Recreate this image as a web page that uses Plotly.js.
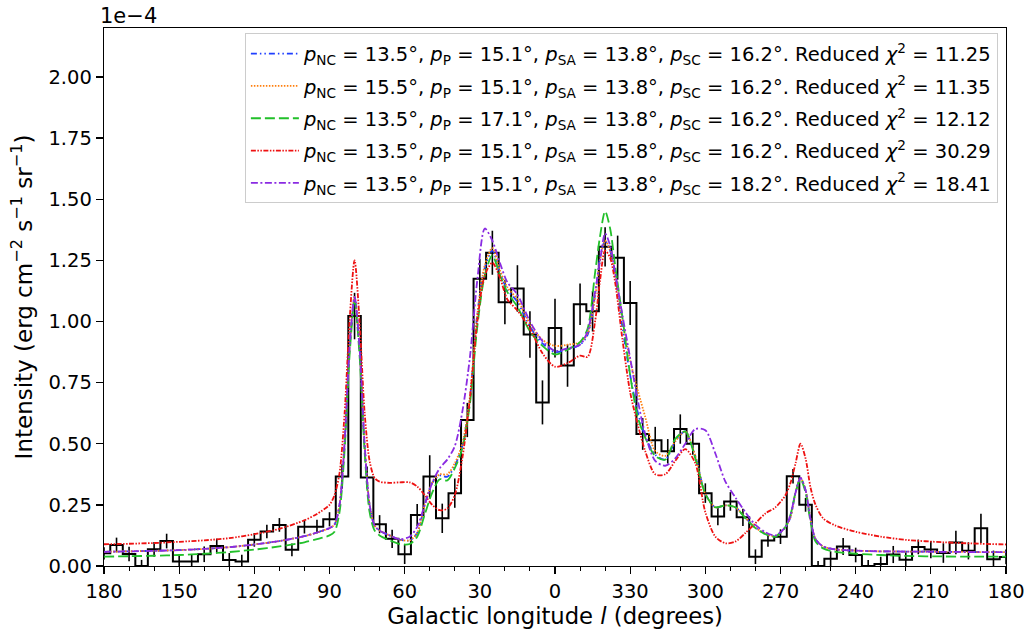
<!DOCTYPE html>
<html>
<head>
<meta charset="utf-8">
<script src="https://cdn.plot.ly/plotly-3.0.1.min.js"></script>
<style>html,body{margin:0;padding:0;background:#fff;}</style>
</head>
<body>
<div id="chart" style="width:1032px;height:632px;"></div>
<script>
// Observed histogram (intensity in units of 1e-4 erg cm^-2 s^-1 sr^-1), bin centres in degrees (l > 180 written as negative)
const binL = [180,175,170,165,160,155,150,145,140,135,130,125,120,115,110,105,100,95,90,85,80,75,70,65,60,55,50,45,40,35,30,25,20,15,10,5,0,
  -5,-10,-15,-20,-25,-30,-35,-40,-45,-50,-55,-60,-65,-70,-75,-80,-85,-90,-95,-100,-105,-110,-115,-120,-125,-130,-135,-140,-145,-150,-155,-160,-165,-170,-175,-180];
const obsI = [0.052,0.086,0.049,0.0,0.068,0.102,0.018,0.018,0.048,0.082,0.025,0.018,0.107,0.141,0.168,0.066,0.161,0.161,0.191,0.366,1.022,0.362,0.171,0.111,0.048,0.209,0.366,0.195,0.298,0.597,1.175,1.281,1.079,1.135,0.947,0.669,0.973,
  0.820,1.070,1.042,1.305,1.261,1.075,0.540,0.514,0.469,0.560,0.500,0.298,0.202,0.264,0.199,0.038,0.104,0.120,0.367,0.250,0.0,0.030,0.080,0.045,0.0,0.008,0.047,0.026,0.078,0.067,0.053,0.096,0.062,0.154,0.028,0.037];
const obsErr = [0.025,0.03,0.03,0.025,0.03,0.03,0.028,0.028,0.032,0.03,0.028,0.028,0.028,0.028,0.028,0.026,0.028,0.028,0.029,0.05,0.095,0.045,0.037,0.037,0.04,0.045,0.087,0.06,0.06,0.07,0.08,0.09,0.09,0.095,0.095,0.09,0.12,
  0.087,0.085,0.083,0.08,0.09,0.09,0.065,0.055,0.05,0.06,0.045,0.04,0.035,0.038,0.035,0.03,0.025,0.03,0.03,0.028,0.02,0.03,0.035,0.03,0.025,0.03,0.035,0.03,0.03,0.035,0.04,0.048,0.035,0.06,0.035,0.03];

// Model curves
const modelL = [180,170,160,150,140,130,120,110,100,95,90,88,86,84,82,80,78,76,74,72,70,66,62,58,55,52,49,46,43,40,37,34,31,28,25,22,19,15,10,5,0,
  -5,-10,-13,-16,-18,-20,-22,-24,-27,-30,-33,-36,-40,-44,-48,-52,-56,-60,-64,-68,-72,-76,-80,-84,-88,-92,-94,-96,-98,-100,-102,-104,-107,-112,-120,-130,-140,-155,-170,-180];
const modelA = [0.058,0.060,0.062,0.065,0.070,0.077,0.088,0.102,0.122,0.137,0.155,0.17,0.25,0.50,0.89,1.10,0.89,0.50,0.25,0.165,0.145,0.125,0.108,0.105,0.135,0.25,0.34,0.37,0.365,0.41,0.49,0.68,1.03,1.22,1.29,1.20,1.13,1.08,0.98,0.91,0.875,
  0.885,0.905,0.945,1.11,1.26,1.33,1.29,1.19,0.97,0.78,0.63,0.53,0.455,0.435,0.51,0.55,0.45,0.295,0.24,0.248,0.24,0.197,0.157,0.132,0.122,0.16,0.20,0.30,0.36,0.31,0.19,0.11,0.08,0.068,0.063,0.060,0.059,0.058,0.057,0.057];
const modelB = [0.058,0.060,0.062,0.065,0.070,0.077,0.088,0.102,0.122,0.137,0.155,0.17,0.25,0.50,0.89,1.10,0.89,0.50,0.25,0.165,0.145,0.125,0.108,0.105,0.135,0.25,0.34,0.375,0.375,0.42,0.50,0.69,1.03,1.23,1.30,1.21,1.14,1.09,0.99,0.925,0.90,
  0.905,0.915,0.95,1.10,1.25,1.33,1.29,1.20,1.00,0.84,0.72,0.61,0.47,0.45,0.51,0.55,0.45,0.295,0.24,0.248,0.24,0.197,0.157,0.132,0.122,0.16,0.20,0.30,0.36,0.31,0.19,0.11,0.08,0.068,0.063,0.060,0.059,0.058,0.057,0.057];
const modelC = [0.038,0.040,0.042,0.045,0.050,0.057,0.067,0.080,0.097,0.110,0.125,0.14,0.22,0.47,0.86,1.08,0.86,0.47,0.22,0.145,0.125,0.105,0.09,0.09,0.12,0.21,0.30,0.355,0.35,0.40,0.48,0.66,0.98,1.19,1.27,1.19,1.12,1.06,0.96,0.90,0.865,
  0.885,0.915,0.97,1.20,1.35,1.45,1.38,1.23,1.01,0.78,0.61,0.525,0.45,0.435,0.52,0.55,0.44,0.295,0.24,0.248,0.24,0.195,0.155,0.13,0.12,0.16,0.21,0.30,0.355,0.30,0.18,0.10,0.072,0.058,0.050,0.045,0.041,0.039,0.038,0.038];
const modelD = [0.089,0.091,0.094,0.099,0.105,0.114,0.130,0.152,0.187,0.213,0.250,0.29,0.38,0.62,1.00,1.25,1.00,0.63,0.43,0.36,0.345,0.34,0.342,0.342,0.325,0.29,0.25,0.228,0.235,0.29,0.44,0.68,1.00,1.19,1.24,1.18,1.09,1.045,0.97,0.87,0.815,
  0.83,0.86,0.855,1.0,1.17,1.29,1.26,1.16,0.92,0.71,0.58,0.47,0.375,0.375,0.43,0.478,0.42,0.22,0.12,0.093,0.10,0.135,0.175,0.215,0.24,0.29,0.34,0.42,0.50,0.44,0.32,0.25,0.195,0.165,0.14,0.12,0.107,0.097,0.091,0.088];
const modelE = [0.058,0.060,0.062,0.065,0.070,0.077,0.088,0.102,0.122,0.137,0.155,0.17,0.25,0.50,0.89,1.10,0.89,0.50,0.25,0.165,0.145,0.125,0.11,0.12,0.16,0.25,0.34,0.40,0.435,0.49,0.63,0.85,1.17,1.38,1.33,1.24,1.16,1.11,1.00,0.92,0.88,
  0.89,0.905,0.96,1.12,1.25,1.36,1.31,1.20,1.02,0.85,0.68,0.54,0.43,0.41,0.44,0.50,0.56,0.555,0.46,0.345,0.28,0.22,0.168,0.138,0.125,0.16,0.21,0.30,0.36,0.31,0.19,0.11,0.08,0.068,0.063,0.060,0.059,0.058,0.057,0.057];

const legendNames = [
  '<i>p</i><sub>NC</sub> = 13.5°, <i>p</i><sub>P</sub> = 15.1°, <i>p</i><sub>SA</sub> = 13.8°, <i>p</i><sub>SC</sub> = 16.2°. Reduced <i>χ</i><sup>2</sup> = 11.25',
  '<i>p</i><sub>NC</sub> = 15.5°, <i>p</i><sub>P</sub> = 15.1°, <i>p</i><sub>SA</sub> = 13.8°, <i>p</i><sub>SC</sub> = 16.2°. Reduced <i>χ</i><sup>2</sup> = 11.35',
  '<i>p</i><sub>NC</sub> = 13.5°, <i>p</i><sub>P</sub> = 17.1°, <i>p</i><sub>SA</sub> = 13.8°, <i>p</i><sub>SC</sub> = 16.2°. Reduced <i>χ</i><sup>2</sup> = 12.12',
  '<i>p</i><sub>NC</sub> = 13.5°, <i>p</i><sub>P</sub> = 15.1°, <i>p</i><sub>SA</sub> = 15.8°, <i>p</i><sub>SC</sub> = 16.2°. Reduced <i>χ</i><sup>2</sup> = 30.29',
  '<i>p</i><sub>NC</sub> = 13.5°, <i>p</i><sub>P</sub> = 15.1°, <i>p</i><sub>SA</sub> = 13.8°, <i>p</i><sub>SC</sub> = 18.2°. Reduced <i>χ</i><sup>2</sup> = 18.41'
];

const xTickVals = [180,150,120,90,60,30,0,-30,-60,-90,-120,-150,-180];
const xTickText = ['180','150','120','90','60','30','0','330','300','270','240','210','180'];
const xMinorVals = [170,160,140,130,110,100,80,70,50,40,20,10,-10,-20,-40,-50,-70,-80,-100,-110,-130,-140,-160,-170];
const yTickVals = [0,0.25,0.5,0.75,1.0,1.25,1.5,1.75,2.0];

const models = [modelA, modelB, modelC, modelD, modelE];
const colors = ['#1f3fff', '#ff7f0e', '#22c02a', '#ee1111', '#8a2be2'];
const dashes = ['6px,3px,1.5px,3px,1.5px,3px', '1.5px,1.5px', '10px,4px', '5px,1.5px,1.5px,1.5px,1.5px,1.5px', '7px,2.5px,2px,2.5px'];

const traces = [];
traces.push({
  x: binL, y: obsI, type: 'scatter', mode: 'lines', line: {shape: 'hvh', color: '#000', width: 2},
  showlegend: false, hoverinfo: 'skip'
});
traces.push({
  x: binL, y: obsI, type: 'scatter', mode: 'markers', marker: {size: 0.1, color: '#000', opacity: 0},
  error_y: {type: 'data', array: obsErr, visible: true, color: '#000', thickness: 1.6, width: 0},
  showlegend: false, hoverinfo: 'skip'
});
for (let i = 0; i < models.length; i++) {
  traces.push({
    x: modelL, y: models[i], type: 'scatter', mode: 'lines', name: legendNames[i], legendgroup: 'g' + i,
    line: {color: colors[i], width: 1.8, dash: dashes[i], shape: 'spline', smoothing: 0.8}
  });
}

const fam = 'DejaVu Sans, sans-serif';
const tickFont = {family: fam, size: 19.5, color: '#000'};
const layout = {
  width: 1032, height: 632,
  margin: {l: 104, r: 26, t: 28, b: 66},
  paper_bgcolor: '#fff', plot_bgcolor: '#fff',
  font: {family: fam, size: 19, color: '#000'},
  showlegend: true,
  xaxis: {
    range: [180, -180], tickvals: xTickVals, ticktext: xTickText,
    ticks: 'outside', ticklen: 7, tickwidth: 1.3, tickcolor: '#000',
    showline: true, linecolor: '#000', linewidth: 1.3, mirror: true,
    showgrid: false, zeroline: false, tickfont: tickFont,
    minor: {tickvals: xMinorVals, ticks: 'outside', ticklen: 4, tickwidth: 1, tickcolor: '#000', showgrid: false},
    title: {text: 'Galactic longitude <i>l</i> (degrees)', font: {family: fam, size: 22.7, color: '#000'}, standoff: 5}
  },
  yaxis: {
    range: [0, 2.2], tickvals: yTickVals, tickformat: '.2f',
    ticks: 'outside', ticklen: 7, tickwidth: 1.3, tickcolor: '#000',
    showline: true, linecolor: '#000', linewidth: 1.3, mirror: true,
    showgrid: false, zeroline: false, tickfont: tickFont,
    title: {text: 'Intensity (erg cm<sup>−2</sup> s<sup>−1</sup> sr<sup>−1</sup>)', font: {family: fam, size: 23, color: '#000'}, standoff: 9}
  },
  legend: {
    x: 0.991, xanchor: 'right', y: 0.99, yanchor: 'top',
    bgcolor: 'rgba(255,255,255,0.85)', bordercolor: '#cccccc', borderwidth: 1,
    tracegroupgap: 4, itemwidth: 48,
    font: {family: fam, size: 19.5, color: '#000'}
  },
  annotations: [{
    xref: 'paper', yref: 'paper', x: 0, y: 1, xanchor: 'left', yanchor: 'bottom',
    text: '1e−4', showarrow: false, font: {family: fam, size: 21, color: '#000'}, xshift: -6, yshift: -2
  }]
};

Plotly.newPlot('chart', traces, layout, {displayModeBar: false, staticPlot: true});
</script>
</body>
</html>
